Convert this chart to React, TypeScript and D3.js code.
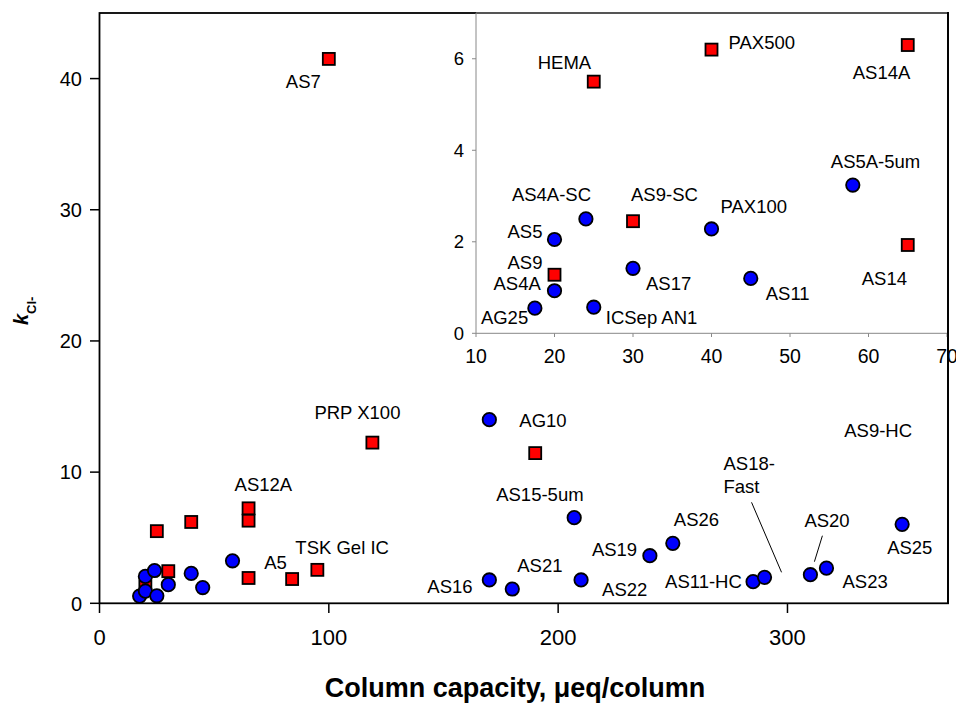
import { scaleLinear } from 'd3';

const width = 956;
const height = 703;

// red squares
const squareNames = ['HEMA', 'PAX500', 'AS14A', 'AS9-SC', 'AS14', 'AS9', 'AS12A', 'AS7', 'PRP X100', 'A5', 'TSK Gel IC', 'AS9-HC'];
const squareCapacity = [25, 40, 65, 30, 65, 20, 65, 100, 119, 84, 95, 190];
const squareK = [5.5, 6.2, 6.3, 2.45, 1.93, 1.28, 7.24, 41.5, 12.25, 1.85, 2.55, 11.45];

// blue circles
const circleNames = ['AG25', 'AS4A', 'AS5', 'AS4A-SC', 'AS17', 'ICSep AN1', 'PAX100', 'AS11', 'AS5A-5um', 'AG10', 'AS15-5um', 'AS16', 'AS21', 'AS22', 'AS19', 'AS26', 'AS11-HC', 'AS18-Fast', 'AS20', 'AS23', 'AS25'];
const circleCapacity = [17.5, 20, 20, 24, 30, 25, 40, 45, 58, 170, 207, 170, 180, 210, 240, 250, 285, 290, 310, 317, 350];
const circleK = [0.55, 0.93, 2.05, 2.5, 1.42, 0.57, 2.28, 1.2, 3.24, 14, 6.53, 1.78, 1.09, 1.78, 3.63, 4.57, 1.65, 1.98, 2.18, 2.68, 6.02];

const mainXTicks = [0, 100, 200, 300];
const mainYTicks = [0, 10, 20, 30, 40];
const insetXTicks = [10, 20, 30, 40, 50, 60, 70];
const insetYTicks = [0, 2, 4, 6];

// label placement, pixel offset from the marker (left x, baseline)
const mainLabelOffsets: Record<string, [number, number]> = {
  'AS7': [-43, 29],
  'PRP X100': [-58, -24],
  'AS12A': [-14, -17],
  'A5': [-28, -10],
  'TSK Gel IC': [-22, -16],
  'AS9-HC': [309, -16],
  'AG10': [30, 7],
  'AS15-5um': [-78, -17],
  'AS16': [-62, 13],
  'AS21': [5, -17],
  'AS22': [21, 16],
  'AS19': [-58, 0],
  'AS26': [1, -17],
  'AS11-HC': [-88, 6],
  'AS18-Fast': [-41, -107],
  'AS20': [-6, -48],
  'AS23': [16, 20],
  'AS25': [-15, 30],
};
const insetLabelOffsets: Record<string, [number, number]> = {
  'HEMA': [-56, -13],
  'PAX500': [17, -1],
  'AS14A': [-55, 34],
  'AS5A-5um': [-22, -17],
  'AS4A-SC': [-74, -18],
  'AS9-SC': [-2, -20],
  'PAX100': [9, -16],
  'AS5': [-47, -1],
  'AS9': [-47, -6],
  'AS4A': [-61, -1],
  'AS17': [13, 22],
  'AS11': [15, 22],
  'AS14': [-46, 40],
  'AG25': [-54, 16],
  'ICSep AN1': [12, 17],
};
const leaderLines: Record<string, [number, number, number, number]> = {
  'AS18-Fast': [-13, -75, 17, -5],
  'AS20': [12, -39, 4, -13],
};

const font = 'Liberation Sans, Arial, Helvetica, sans-serif';

const xMain = scaleLinear().domain([0, 370]).range([99.5, 948]);
const yMain = scaleLinear().domain([0, 45]).range([603.3, 13]);
const xInset = scaleLinear().domain([10, 70]).range([476, 947]);
const yInset = scaleLinear().domain([0, 7]).range([333.3, 13]);

const squares = squareNames.map((n, i) => ({ name: n, x: squareCapacity[i], y: squareK[i] }));
const circles = circleNames.map((n, i) => ({ name: n, x: circleCapacity[i], y: circleK[i] }));

const SQ = 12;
const R = 6.7;

const Label = ({ name, x, y }: { name: string; x: number; y: number }) => {
  const lines = name === 'AS18-Fast' ? ['AS18-', 'Fast'] : [name];
  return (
    <text x={x} y={y} fontSize={18.5} fontFamily={font} fill="#000">
      {lines.map((l, i) => (
        <tspan key={i} x={x} dy={i === 0 ? 0 : 22.6}>{l}</tspan>
      ))}
    </text>
  );
};

const App = () => {
  const inInset = (d: { x: number; y: number }) => d.x >= 10 && d.x <= 70 && d.y >= 0 && d.y <= 7;
  return (
    <svg width={width} height={height} style={{ position: 'absolute', left: 0, top: 0 }}>
      <rect width={width} height={height} fill="#fff" />

      {/* main frame */}
      <rect x={99.5} y={13} width={848.5} height={590.3} fill="none" stroke="#000" strokeWidth={1.8} />
      {mainXTicks.map(t => (
        <g key={t}>
          <line x1={xMain(t)} x2={xMain(t)} y1={603.3} y2={613} stroke="#000" strokeWidth={1.5} />
          <text x={xMain(t)} y={645} fontSize={22} textAnchor="middle" fontFamily={font}>{t}</text>
        </g>
      ))}
      {mainYTicks.map(t => (
        <g key={t}>
          <line x1={90} x2={99.5} y1={yMain(t)} y2={yMain(t)} stroke="#000" strokeWidth={1.5} />
          <text x={82} y={yMain(t)} dy="0.36em" fontSize={20} textAnchor="end" fontFamily={font}>{t}</text>
        </g>
      ))}

      {/* main marks */}
      {squares.map(d => (
        <rect key={d.name} x={xMain(d.x) - SQ / 2} y={yMain(d.y) - SQ / 2} width={SQ} height={SQ}
          fill="#ff0000" stroke="#000" strokeWidth={1.8} />
      ))}
      {circles.map(d => (
        <circle key={d.name} cx={xMain(d.x)} cy={yMain(d.y)} r={R} fill="#0000ff" stroke="#000" strokeWidth={1.8} />
      ))}
      {[...squares, ...circles].filter(d => mainLabelOffsets[d.name]).map(d => {
        const [dx, dy] = mainLabelOffsets[d.name];
        const px = xMain(d.x), py = yMain(d.y);
        const ll = leaderLines[d.name];
        return (
          <g key={'l' + d.name}>
            <Label name={d.name} x={px + dx} y={py + dy} />
            {ll && <line x1={px + ll[0]} y1={py + ll[1]} x2={px + ll[2]} y2={py + ll[3]} stroke="#000" strokeWidth={1} />}
          </g>
        );
      })}

      {/* inset */}
      <rect x={476} y={13} width={470} height={320.3} fill="#fff" />
      <line x1={476} x2={947} y1={13} y2={13} stroke="#555" strokeWidth={1.8} />
      <line x1={476} x2={476} y1={13} y2={333.3} stroke="#888" strokeWidth={1} />
      <line x1={476} x2={947} y1={333.3} y2={333.3} stroke="#888" strokeWidth={1} />
      {insetYTicks.map(t => (
        <g key={t}>
          <line x1={472} x2={476} y1={yInset(t)} y2={yInset(t)} stroke="#888" strokeWidth={1} />
          <text x={464} y={yInset(t)} dy="0.36em" fontSize={18.5} textAnchor="end" fontFamily={font}>{t}</text>
        </g>
      ))}
      {insetXTicks.map(t => (
        <g key={t}>
          <line x1={xInset(t)} x2={xInset(t)} y1={333.3} y2={337} stroke="#888" strokeWidth={1} />
          <text x={xInset(t)} y={363} fontSize={19.5} textAnchor="middle" fontFamily={font}>{t}</text>
        </g>
      ))}
      {squares.filter(inInset).map(d => (
        <rect key={'i' + d.name} x={xInset(d.x) - SQ / 2} y={yInset(d.y) - SQ / 2} width={SQ} height={SQ}
          fill="#ff0000" stroke="#000" strokeWidth={1.8} />
      ))}
      {circles.filter(inInset).map(d => (
        <circle key={'i' + d.name} cx={xInset(d.x)} cy={yInset(d.y)} r={R} fill="#0000ff" stroke="#000" strokeWidth={1.8} />
      ))}
      {[...squares, ...circles].filter(d => inInset(d) && insetLabelOffsets[d.name]).map(d => {
        const [dx, dy] = insetLabelOffsets[d.name];
        return <Label key={'il' + d.name} name={d.name} x={xInset(d.x) + dx} y={yInset(d.y) + dy} />;
      })}

      {/* right border of main frame over inset */}
      <line x1={948} x2={948} y1={12} y2={604} stroke="#000" strokeWidth={1.8} />

      {/* axis titles */}
      <text x={515} y={697} fontSize={27} fontWeight="bold" textAnchor="middle" fontFamily={font}>
        Column capacity, μeq/column
      </text>
      <text transform="translate(28,325) rotate(-90)" fontFamily={font} fontWeight="bold">
        <tspan fontSize={20} fontStyle="italic">k</tspan>
        <tspan fontSize={13} dy={8}>Cl-</tspan>
      </text>
    </svg>
  );
};

export default App;
